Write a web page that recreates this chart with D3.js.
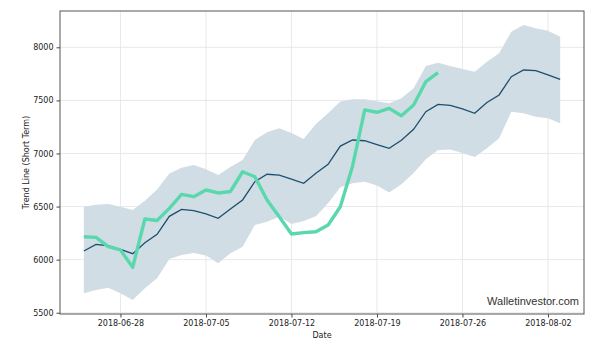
<!DOCTYPE html>
<html><head><meta charset="utf-8">
<script src="https://cdn.jsdelivr.net/npm/d3@7"></script>
<style>body{margin:0;background:#fff;} svg{display:block;}</style>
</head><body>
<svg id="chart" width="601" height="346"></svg>
<script>
const startDate = "2018-06-25";
const trendMean = [6081,6144,6131,6097,6056,6160,6238,6408,6474,6461,6430,6389,6477,6562,6734,6804,6797,6759,6719,6813,6898,7070,7127,7120,7084,7049,7125,7228,7393,7463,7454,7419,7378,7480,7551,7723,7786,7780,7740,7699];
const trendUpper = [6499,6517,6524,6499,6467,6555,6660,6812,6866,6891,6851,6797,6872,6938,7126,7201,7237,7193,7136,7277,7378,7490,7510,7510,7491,7472,7520,7614,7824,7855,7824,7796,7770,7864,7943,8147,8210,8179,8156,8100];
const trendLower = [5683,5714,5736,5683,5620,5730,5824,6006,6044,6062,6039,5965,6060,6122,6326,6357,6404,6336,6364,6408,6531,6682,6720,6733,6698,6632,6711,6815,6946,7033,7037,7004,6967,7049,7143,7393,7378,7346,7331,7284];
const actualPrice = [6216,6210,6122,6091,5928,6383,6369,6483,6615,6593,6656,6628,6642,6828,6781,6562,6404,6241,6254,6263,6326,6498,6880,7410,7388,7425,7356,7457,7676,7761];
const xTickLabels = ["2018-06-28","2018-07-05","2018-07-12","2018-07-19","2018-07-26","2018-08-02"];
const yTickValues = [5500,6000,6500,7000,7500,8000];

const DAY = 86400000;
const t0 = new Date(startDate + "T00:00:00Z").getTime();
const dateAt = i => new Date(t0 + i * DAY);
const band = trendMean.map((m, i) => ({d: dateAt(i), m, u: trendUpper[i], l: trendLower[i]}));
const act = actualPrice.map((v, i) => ({d: dateAt(i), v}));

const svg = d3.select("#chart");
const L = 60, R = 584, T = 11, B = 314;
const n = trendMean.length - 1;
const pad = n * 0.05;
const x = d3.scaleUtc().domain([dateAt(-pad), dateAt(n + pad)]).range([L, R]);
const y = d3.scaleLinear().domain([5488, 8342]).range([B, T]);

const font = "'DejaVu Sans', sans-serif";
// grid
const xt = xTickLabels.map(s => new Date(s + "T00:00:00Z"));
svg.append("g").selectAll("line").data(xt).join("line")
  .attr("x1", d => x(d)).attr("x2", d => x(d)).attr("y1", T).attr("y2", B)
  .attr("stroke", "#e3e3e3").attr("stroke-width", 0.8);
svg.append("g").selectAll("line").data(yTickValues).join("line")
  .attr("x1", L).attr("x2", R).attr("y1", d => y(d)).attr("y2", d => y(d))
  .attr("stroke", "#e3e3e3").attr("stroke-width", 0.8);

svg.append("path").datum(band)
  .attr("d", d3.area().x(d => x(d.d)).y0(d => y(d.l)).y1(d => y(d.u)))
  .attr("fill", "#d1dde5");
svg.append("path").datum(band)
  .attr("d", d3.line().x(d => x(d.d)).y(d => y(d.m)))
  .attr("fill", "none").attr("stroke", "#1c4f6e").attr("stroke-width", 1.3);
svg.append("path").datum(act)
  .attr("d", d3.line().x(d => x(d.d)).y(d => y(d.v)))
  .attr("fill", "none").attr("stroke", "#5ad8ad").attr("stroke-width", 3.4)
  .attr("stroke-linejoin", "round");

// axes
const xAxis = d3.axisBottom(x).tickValues(xt).tickFormat(d3.utcFormat("%Y-%m-%d")).tickSize(3.5).tickPadding(3);
const gx = svg.append("g").attr("transform", `translate(0,${B})`).call(xAxis);
const yAxis = d3.axisLeft(y).tickValues(yTickValues).tickFormat(d3.format("d")).tickSize(3.5).tickPadding(3);
const gy = svg.append("g").attr("transform", `translate(${L},0)`).call(yAxis);
[gx, gy].forEach(g => {
  g.select(".domain").remove();
  g.selectAll("line").attr("stroke", "#444");
  g.selectAll("text").attr("font-family", font).attr("font-size", 8).attr("fill", "#222");
});

svg.append("rect").attr("x", L).attr("y", T).attr("width", R - L).attr("height", B - T)
  .attr("fill", "none").attr("stroke", "#555").attr("stroke-width", 1);

svg.append("text").attr("x", (L + R) / 2).attr("y", 338).attr("text-anchor", "middle")
  .attr("font-family", font).attr("font-size", 8).attr("fill", "#222").text("Date");
svg.append("text").attr("transform", `translate(29,${(T + B) / 2}) rotate(-90)`).attr("text-anchor", "middle")
  .attr("font-family", font).attr("font-size", 8).attr("fill", "#222").text("Trend Line (Short Term)");
svg.append("text").attr("x", 579).attr("y", 305).attr("text-anchor", "end")
  .attr("font-family", "'Liberation Sans', Arial, sans-serif").attr("font-size", 11).attr("fill", "#333")
  .text("Walletinvestor.com");
</script>
</body></html>
